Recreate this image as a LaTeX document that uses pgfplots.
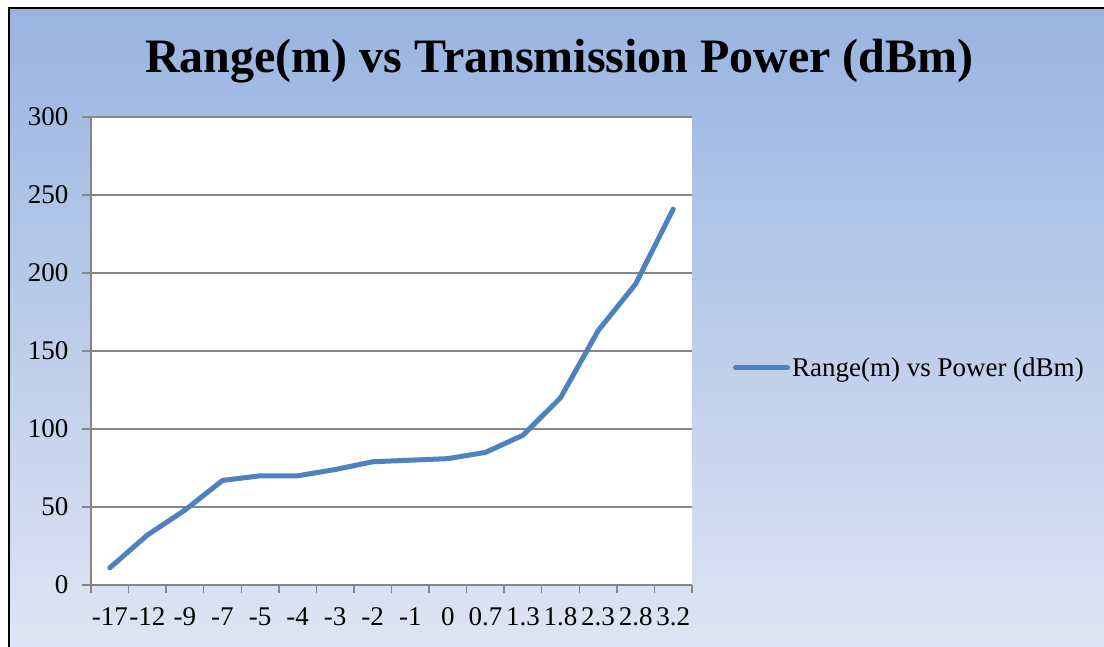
\documentclass[border=0pt]{standalone}
\usepackage{pgfplots}
\pgfplotsset{compat=1.18}
\usepackage{fontspec}
\setmainfont{Liberation Serif}
\definecolor{bgtop}{HTML}{99B4E1}
\definecolor{bgbot}{HTML}{DFE5F3}
\definecolor{serblue}{HTML}{4F81BD}
\definecolor{gridgray}{HTML}{868686}
\begin{document}
\begin{tikzpicture}
\path[use as bounding box] (0pt,0pt) rectangle (1104pt,646pt);
\fill[white] (0pt,0pt) rectangle (1104pt,646pt);
\begin{scope}
\clip (0pt,0pt) rectangle (1104pt,646pt);
\shade[top color=bgtop,bottom color=bgbot] (9pt,-10pt) rectangle (1115pt,638pt);
\draw[black,line width=2pt] (9pt,-10pt) -- (9pt,638pt) -- (1115pt,638pt);
\end{scope}
\node[font=\fontsize{48}{56}\selectfont\bfseries, anchor=base] at (559.5pt,573pt) {Range(m) vs Transmission Power (dBm)};
\begin{axis}[
  at={(91pt,61pt)}, anchor=south west,
  scale only axis, width=601pt, height=468pt,
  xmin=-0.5, xmax=15.5, ymin=0, ymax=300,
  axis x line*=bottom, axis y line*=left,
  axis line style={gridgray, line width=1.4pt, -},
  axis background/.style={fill=white},
  xtick={0,...,15},
  xticklabels={-17,-12,-9,-7,-5,-4,-3,-2,-1,0,0.7,1.3,1.8,2.3,2.8,3.2},
  minor xtick={-0.5,0.5,...,15.5},
  ytick={0,50,...,300},
  tick align=outside,
  major tick length=9pt, minor tick length=8pt,
  major x tick style={draw=none},
  tick style={gridgray, line width=1.4pt},
  ymajorgrids, major grid style={gridgray, line width=1.4pt},
  /pgf/number format/assume math mode=true,
  ticklabel style={font=\fontsize{27}{32}\selectfont},
  xticklabel style={yshift=-10pt},
  yticklabel style={xshift=-10pt},
  legend style={at={(1.068,0.464)}, anchor=west, draw=none, fill=none, inner sep=0pt,
    font=\fontsize{27}{32}\selectfont},
  legend image code/.code={\draw[serblue, line width=5pt, line cap=round] (0pt,0pt) -- (52pt,0pt);},
]
\addplot[serblue, line width=5pt, line join=round, line cap=round] coordinates {
(0,11) (1,32) (2,48) (3,67) (4,70) (5,70) (6,74) (7,79) (8,80) (9,81)
(10,85) (11,96) (12,120) (13,163) (14,193) (15,241)
};
\addlegendentry{Range(m) vs Power (dBm)}
\end{axis}
\end{tikzpicture}
\end{document}
